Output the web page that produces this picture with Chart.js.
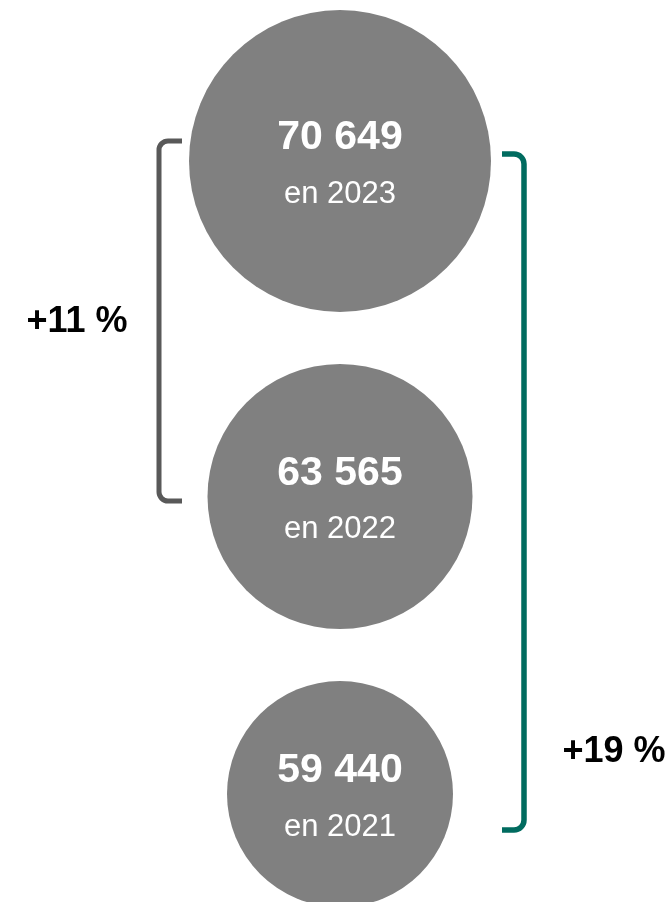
<!DOCTYPE html>
<html>
<head>
<meta charset="utf-8">
<script src="https://cdn.jsdelivr.net/npm/chart.js@4/dist/chart.umd.min.js"></script>
<style>
  html, body { margin: 0; padding: 0; background: #fff; }
  #wrap { width: 671px; height: 902px; position: relative; }
</style>
</head>
<body>
<div id="wrap"><canvas id="bubbles"></canvas></div>
<script>
// Data
const YEARS = ['2023', '2022', '2021'];
const VALUES = [70649, 63565, 59440];
const GROWTH_LABELS = ['+11 %', '+19 %'];

// Styling / layout (kept out of the data arrays)
const W = 671, H = 902;
const BUBBLE_RADII = [151, 132.5, 113];
const BUBBLE_X = 340;
const TOP_MARGIN = 10;
const GAP = 52;
const FONT = "'Liberation Sans', Arial, Helvetica, sans-serif";
const BRACKETS = [
  { x: 159, hookX: 182, y1: 141, y2: 501, color: '#595959', width: 5, r: 9, labelX: 77, labelY: 322 },
  { x: 524, hookX: 502, y1: 154, y2: 830, color: '#006b5f', width: 5.5, r: 10, labelX: 614, labelY: 752 },
];

// stack the circles top to bottom with a constant gap between them
function stackCenters(radii) {
  const ys = [];
  let y = TOP_MARGIN;
  radii.forEach((r) => {
    y += r;
    ys.push(y);
    y += r + GAP;
  });
  return ys;
}

function fmtNumber(v) {
  return String(v).replace(/\B(?=(\d{3})+(?!\d))/g, ' ');
}

const centers = stackCenters(BUBBLE_RADII);

// Text inside the circles
const bubbleLabels = {
  id: 'bubbleLabels',
  afterDatasetsDraw(chart) {
    const ctx = chart.ctx;
    const meta = chart.getDatasetMeta(0);
    ctx.save();
    ctx.fillStyle = '#ffffff';
    ctx.textAlign = 'center';
    ctx.textBaseline = 'middle';
    meta.data.forEach((pt, i) => {
      ctx.font = `bold 41px ${FONT}`;
      ctx.fillText(fmtNumber(VALUES[i]), pt.x, pt.y - 23);
      ctx.font = `31px ${FONT}`;
      ctx.fillText(`en ${YEARS[i]}`, pt.x, pt.y + 33);
    });
    ctx.restore();
  },
};

// Growth brackets with their labels
const growthBrackets = {
  id: 'growthBrackets',
  afterDatasetsDraw(chart) {
    const ctx = chart.ctx;
    const xs = chart.scales.x, ys = chart.scales.y;
    ctx.save();
    BRACKETS.forEach((b, i) => {
      const x = xs.getPixelForValue(b.x);
      const hx = xs.getPixelForValue(b.hookX);
      const y1 = ys.getPixelForValue(b.y1);
      const y2 = ys.getPixelForValue(b.y2);
      const dir = hx > x ? 1 : -1;
      ctx.beginPath();
      ctx.moveTo(hx, y1);
      ctx.lineTo(x + dir * b.r, y1);
      ctx.arcTo(x, y1, x, y1 + b.r, b.r);
      ctx.lineTo(x, y2 - b.r);
      ctx.arcTo(x, y2, x + dir * b.r, y2, b.r);
      ctx.lineTo(hx, y2);
      ctx.strokeStyle = b.color;
      ctx.lineWidth = b.width;
      ctx.lineCap = 'butt';
      ctx.stroke();

      ctx.fillStyle = '#000000';
      ctx.font = `bold 36px ${FONT}`;
      ctx.textAlign = 'center';
      ctx.textBaseline = 'middle';
      ctx.fillText(GROWTH_LABELS[i], xs.getPixelForValue(b.labelX), ys.getPixelForValue(b.labelY));
    });
    ctx.restore();
  },
};

new Chart(document.getElementById('bubbles'), {
  type: 'bubble',
  data: {
    labels: YEARS,
    datasets: [{
      label: 'Total',
      data: VALUES.map((v, i) => ({ x: BUBBLE_X, y: centers[i], r: BUBBLE_RADII[i], v })),
      backgroundColor: '#808080',
      borderWidth: 0,
      hoverBorderWidth: 0,
      clip: false,
    }],
  },
  options: {
    responsive: true,
    maintainAspectRatio: false,
    animation: false,
    layout: { padding: 0, autoPadding: false },
    scales: {
      x: { type: 'linear', min: 0, max: W, display: false },
      y: { type: 'linear', min: 0, max: H, reverse: true, display: false },
    },
    plugins: {
      legend: { display: false },
      tooltip: { enabled: false },
    },
  },
  plugins: [bubbleLabels, growthBrackets],
});
</script>
</body>
</html>
